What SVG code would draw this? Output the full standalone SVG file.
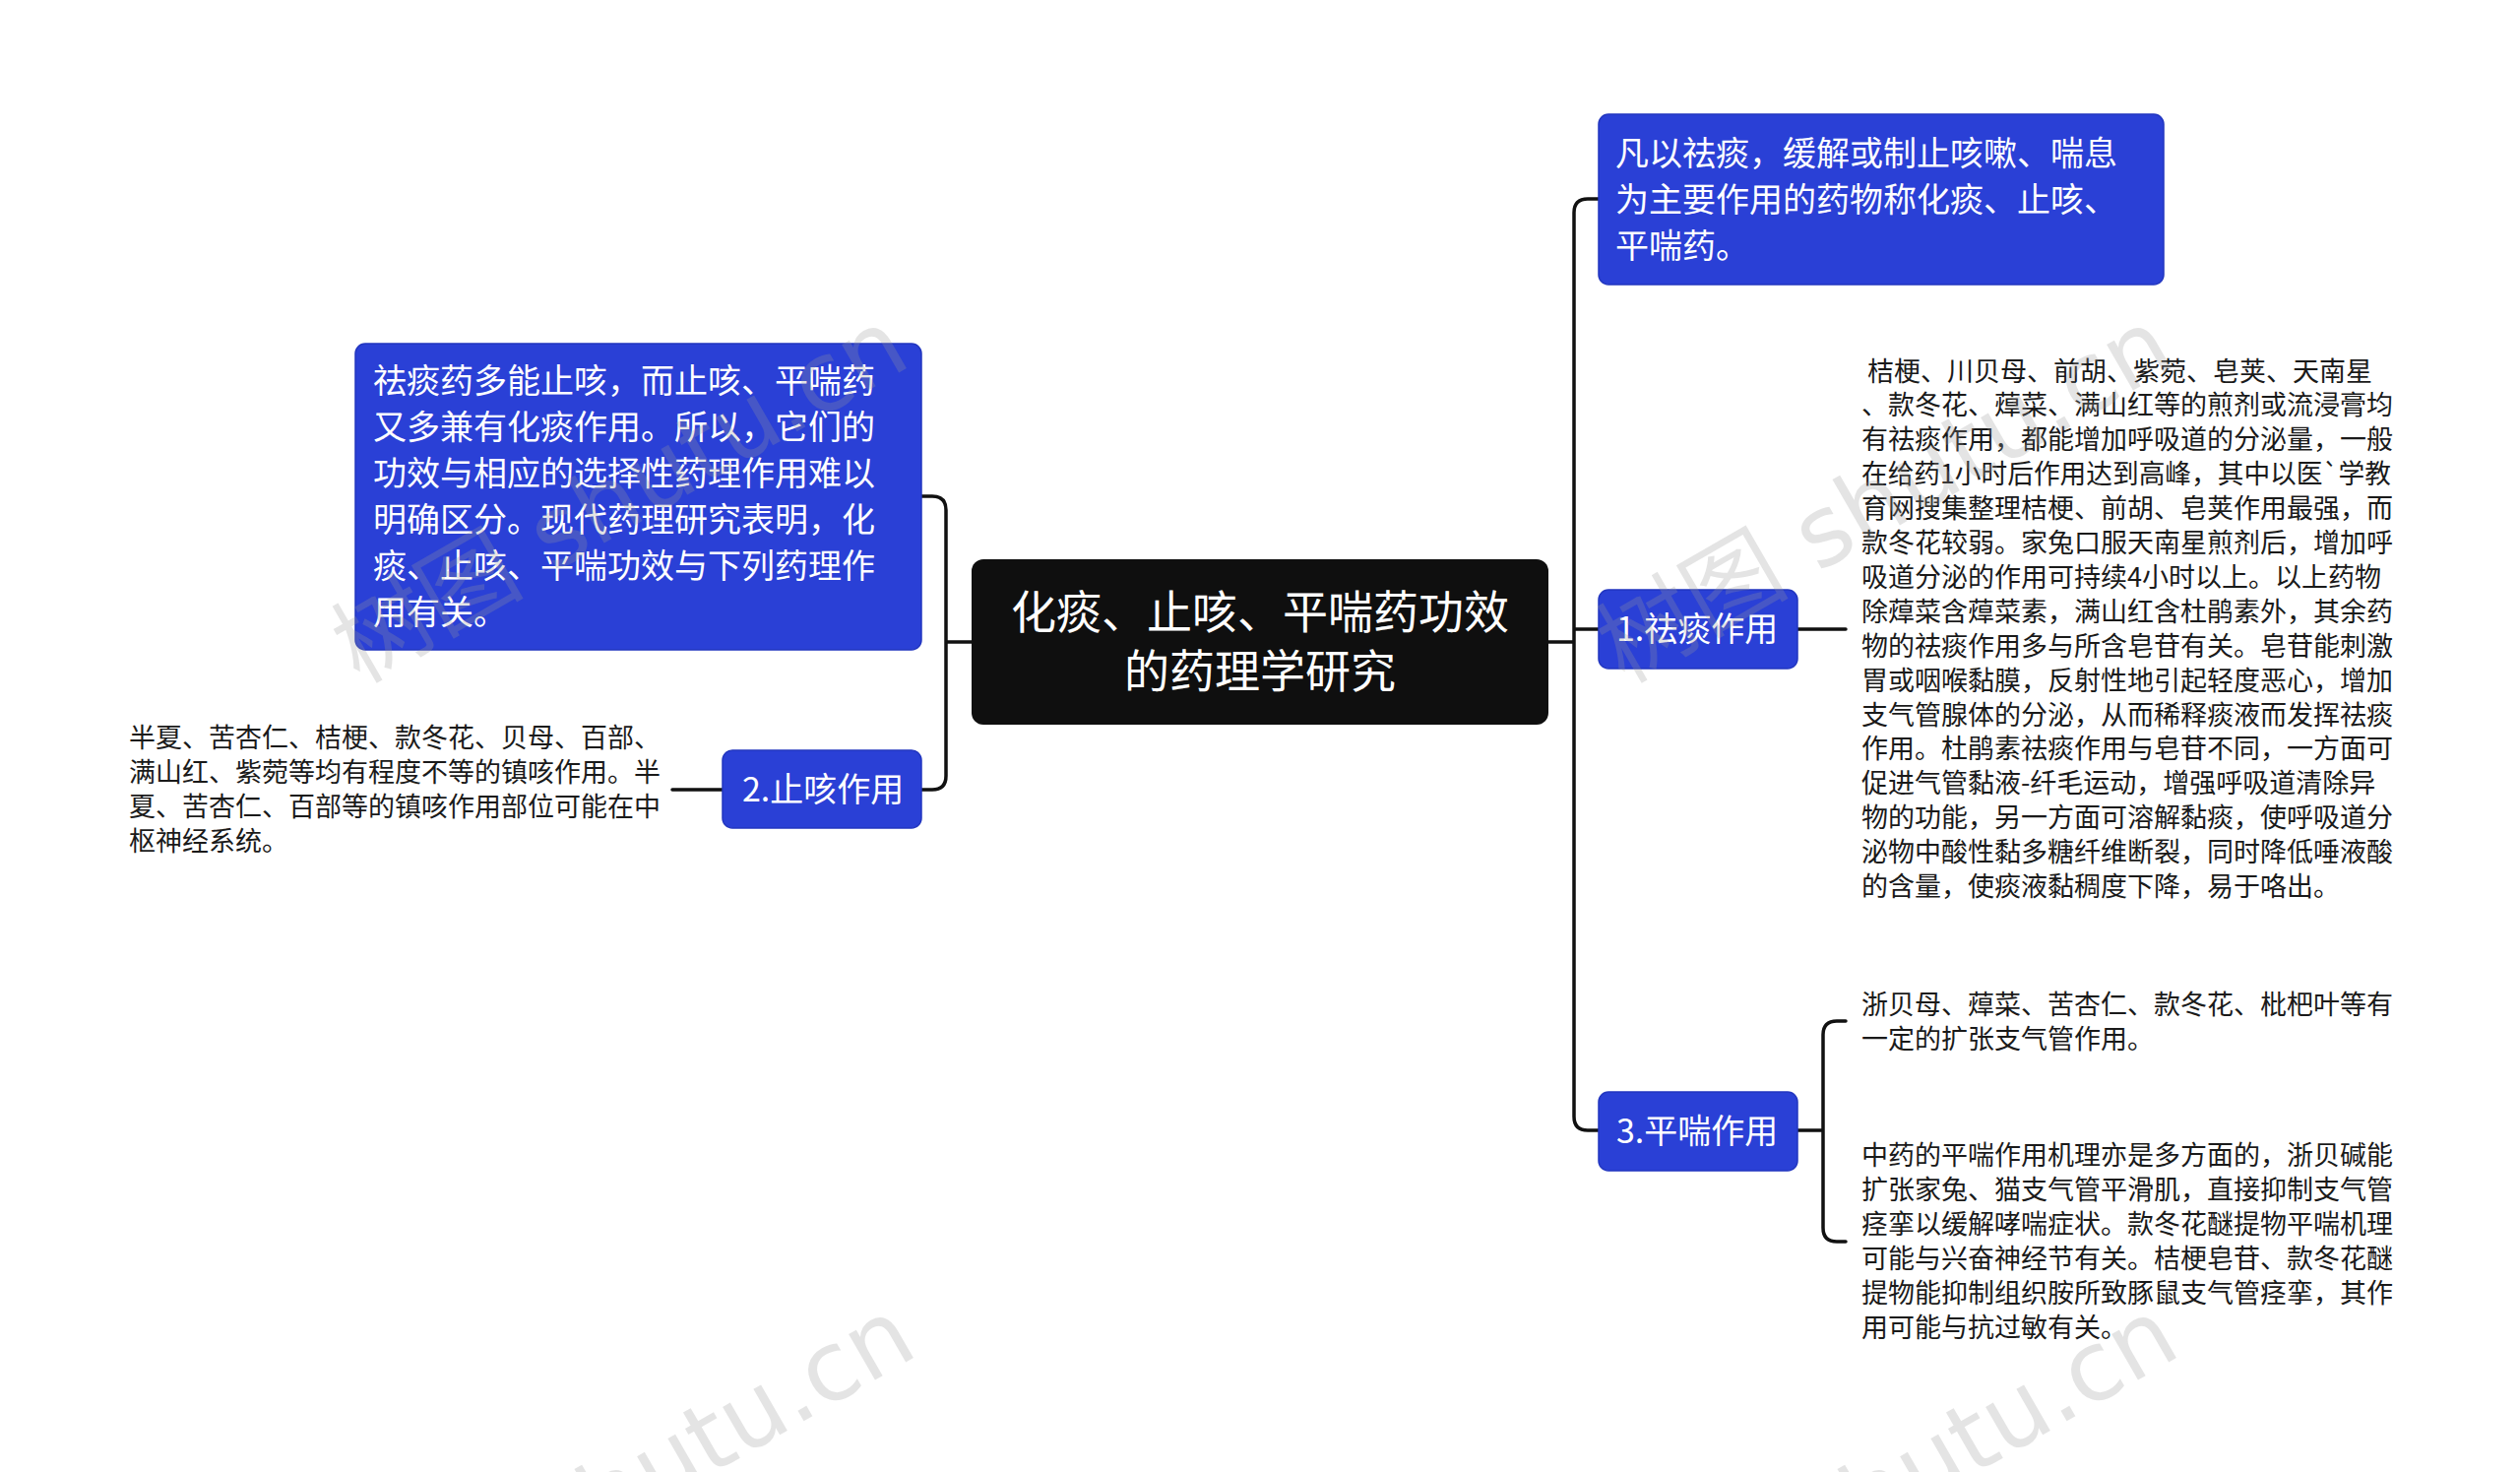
<svg xmlns="http://www.w3.org/2000/svg" width="2560" height="1495" viewBox="0 0 2560 1495">
<defs>
<style>
.bg{fill:#ffffff}
.blue{fill:#2a40d6;stroke:#2236c0;stroke-width:1.5}
.root{fill:#0f0f0f}
.wt{fill:#ffffff;font-family:"Noto Sans CJK SC","Noto Sans",sans-serif;font-size:34px}
.rt{fill:#ffffff;font-family:"Noto Sans CJK SC","Noto Sans",sans-serif;font-size:46px}
.bt{fill:#1a1a1a;font-family:"Noto Sans CJK SC","Noto Sans",sans-serif;font-size:27px;white-space:pre}
.conn{fill:none;stroke:#111111;stroke-width:3.5;stroke-linecap:round}
.wm{fill:#9a9a9a;opacity:0.26;font-family:"DejaVu Sans","Noto Sans CJK SC",sans-serif;font-size:98px}
</style>
</defs>
<rect class="bg" x="0" y="0" width="2560" height="1495"/>

<g id="connectors">
<path class="conn" d="M987,652 H961 M936,504 H947 Q961,504 961,518 V788 Q961,802 947,802 H936"/>
<path class="conn" d="M734,802 H683"/>
<path class="conn" d="M1573,652 H1599 M1624,202 H1613 Q1599,202 1599,216 V1134 Q1599,1148 1613,1148 H1624 M1599,639 H1624"/>
<path class="conn" d="M1826,639 H1875"/>
<path class="conn" d="M1826,1148 H1852 M1875,1037 H1866 Q1852,1037 1852,1051 V1247 Q1852,1261 1866,1261 H1875"/>
</g>

<g id="root">
<rect class="root" x="987" y="568" width="586" height="168" rx="12"/>
<text class="rt" x="1280" y="638" text-anchor="middle">化痰、止咳、平喘药功效</text>
<text class="rt" x="1280" y="698" text-anchor="middle">的药理学研究</text>
</g>

<g id="node-intro-left">
<rect class="blue" x="361" y="349" width="575" height="311" rx="10"/>
<text class="wt" x="379" y="399">祛痰药多能止咳，而止咳、平喘药</text>
<text class="wt" x="379" y="446">又多兼有化痰作用。所以，它们的</text>
<text class="wt" x="379" y="493">功效与相应的选择性药理作用难以</text>
<text class="wt" x="379" y="540">明确区分。现代药理研究表明，化</text>
<text class="wt" x="379" y="587">痰、止咳、平喘功效与下列药理作</text>
<text class="wt" x="379" y="634">用有关。</text>
</g>

<g id="node-2">
<rect class="blue" x="734" y="762" width="202" height="79" rx="10"/>
<text class="wt" x="754" y="814">2.止咳作用</text>
</g>

<g id="node-2-text">
<text class="bt" x="131" y="759">半夏、苦杏仁、桔梗、款冬花、贝母、百部、</text>
<text class="bt" x="131" y="794">满山红、紫菀等均有程度不等的镇咳作用。半</text>
<text class="bt" x="131" y="829">夏、苦杏仁、百部等的镇咳作用部位可能在中</text>
<text class="bt" x="131" y="864">枢神经系统。</text>
</g>

<g id="node-intro-right">
<rect class="blue" x="1624" y="116" width="574" height="173" rx="10"/>
<text class="wt" x="1641" y="168">凡以祛痰，缓解或制止咳嗽、喘息</text>
<text class="wt" x="1641" y="215">为主要作用的药物称化痰、止咳、</text>
<text class="wt" x="1641" y="262">平喘药。</text>
</g>

<g id="node-1">
<rect class="blue" x="1624" y="599" width="202" height="80" rx="10"/>
<text class="wt" x="1642" y="651">1.祛痰作用</text>
</g>

<g id="node-1-text">
<text class="bt" x="1891" y="386.5"> 桔梗、川贝母、前胡、紫菀、皂荚、天南星</text>
<text class="bt" x="1891" y="421.4">、款冬花、蔊菜、满山红等的煎剂或流浸膏均</text>
<text class="bt" x="1891" y="456.3">有祛痰作用，都能增加呼吸道的分泌量，一般</text>
<text class="bt" x="1891" y="491.2" textLength="538" lengthAdjust="spacingAndGlyphs">在给药1小时后作用达到高峰，其中以医`学教</text>
<text class="bt" x="1891" y="526.1">育网搜集整理桔梗、前胡、皂荚作用最强，而</text>
<text class="bt" x="1891" y="561">款冬花较弱。家兔口服天南星煎剂后，增加呼</text>
<text class="bt" x="1891" y="595.9">吸道分泌的作用可持续4小时以上。以上药物</text>
<text class="bt" x="1891" y="630.8">除蔊菜含蔊菜素，满山红含杜鹃素外，其余药</text>
<text class="bt" x="1891" y="665.7">物的祛痰作用多与所含皂苷有关。皂苷能刺激</text>
<text class="bt" x="1891" y="700.6">胃或咽喉黏膜，反射性地引起轻度恶心，增加</text>
<text class="bt" x="1891" y="735.5">支气管腺体的分泌，从而稀释痰液而发挥祛痰</text>
<text class="bt" x="1891" y="770.4">作用。杜鹃素祛痰作用与皂苷不同，一方面可</text>
<text class="bt" x="1891" y="805.3">促进气管黏液-纤毛运动，增强呼吸道清除异</text>
<text class="bt" x="1891" y="840.2">物的功能，另一方面可溶解黏痰，使呼吸道分</text>
<text class="bt" x="1891" y="875.1">泌物中酸性黏多糖纤维断裂，同时降低唾液酸</text>
<text class="bt" x="1891" y="910">的含量，使痰液黏稠度下降，易于咯出。</text>
</g>

<g id="node-3">
<rect class="blue" x="1624" y="1109" width="202" height="80" rx="10"/>
<text class="wt" x="1642" y="1161">3.平喘作用</text>
</g>

<g id="node-3-text-a">
<text class="bt" x="1891" y="1029.5">浙贝母、蔊菜、苦杏仁、款冬花、枇杷叶等有</text>
<text class="bt" x="1891" y="1064.5">一定的扩张支气管作用。</text>
</g>

<g id="node-3-text-b">
<text class="bt" x="1891" y="1183">中药的平喘作用机理亦是多方面的，浙贝碱能</text>
<text class="bt" x="1891" y="1218">扩张家兔、猫支气管平滑肌，直接抑制支气管</text>
<text class="bt" x="1891" y="1253">痉挛以缓解哮喘症状。款冬花醚提物平喘机理</text>
<text class="bt" x="1891" y="1288">可能与兴奋神经节有关。桔梗皂苷、款冬花醚</text>
<text class="bt" x="1891" y="1323">提物能抑制组织胺所致豚鼠支气管痉挛，其作</text>
<text class="bt" x="1891" y="1358">用可能与抗过敏有关。</text>
</g>

<g id="watermarks">
<text class="wm" transform="translate(365,695) rotate(-30)">树图 shutu.cn</text>
<text class="wm" transform="translate(1650,695) rotate(-30)">树图 shutu.cn</text>
<text class="wm" transform="translate(372,1700) rotate(-30)">树图 shutu.cn</text>
<text class="wm" transform="translate(1655,1700) rotate(-30)">树图 shutu.cn</text>
</g>
</svg>
